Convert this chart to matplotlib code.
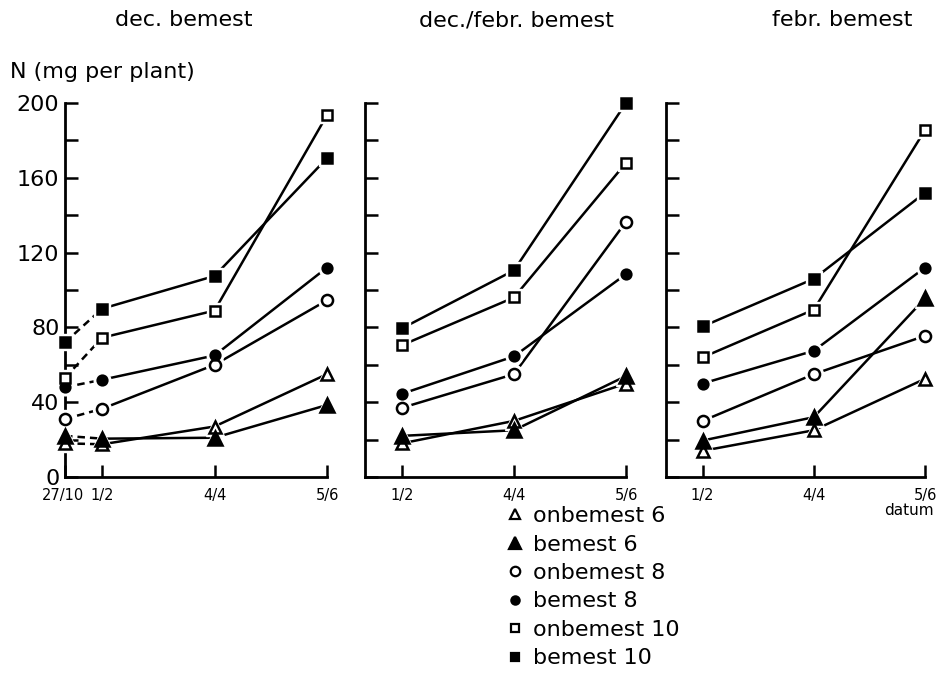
import matplotlib
matplotlib.use("Agg")
import matplotlib.pyplot as plt
import matplotlib.transforms as mtransforms
from matplotlib.lines import Line2D

# N uptake (mg per plant) per sampling date, three fertilisation regimes
dates_dec = ['27/10', '1/2', '4/4', '5/6']
dates = ['1/2', '4/4', '5/6']
xpos = {'27/10': -0.33, '1/2': 0, '4/4': 1, '5/6': 2}

dec_onbemest6 = [18, 17.5, 27, 55]
dec_bemest6 = [22, 20.5, 21, 38.5]
dec_onbemest8 = [31, 36.5, 60, 94.5]
dec_bemest8 = [48, 52, 65, 112]
dec_onbemest10 = [53, 74.5, 89, 193.5]
dec_bemest10 = [72, 90, 107.5, 170.5]

decfeb_onbemest6 = [18, 30, 50]
decfeb_bemest6 = [22, 25, 54]
decfeb_onbemest8 = [37, 55, 136.5]
decfeb_bemest8 = [44.5, 64.5, 108.5]
decfeb_onbemest10 = [70.5, 96, 168]
decfeb_bemest10 = [79.5, 110.5, 200]

feb_onbemest6 = [14, 25, 52.5]
feb_bemest6 = [19.5, 32, 95.5]
feb_onbemest8 = [30, 55, 75.5]
feb_bemest8 = [50, 67.5, 112]
feb_onbemest10 = [64, 89.5, 185.5]
feb_bemest10 = [80.5, 106, 152]

labels = ['onbemest 6', 'bemest 6', 'onbemest 8', 'bemest 8', 'onbemest 10', 'bemest 10']
# marker, filled, size
styles = [('^', False, 8.5), ('^', True, 9.5), ('o', False, 8), ('o', True, 7),
          ('s', False, 6.5), ('s', True, 6.5)]

titles = ['dec. bemest', 'dec./febr. bemest', 'febr. bemest']
panels = [
    (dates_dec, [dec_onbemest6, dec_bemest6, dec_onbemest8, dec_bemest8, dec_onbemest10, dec_bemest10]),
    (dates, [decfeb_onbemest6, decfeb_bemest6, decfeb_onbemest8, decfeb_bemest8, decfeb_onbemest10, decfeb_bemest10]),
    (dates, [feb_onbemest6, feb_bemest6, feb_onbemest8, feb_bemest8, feb_onbemest10, feb_bemest10]),
]

plt.rcParams['font.family'] = 'DejaVu Sans'
fig = plt.figure(figsize=(9.46, 6.77), dpi=100)

W, H = 946, 677
lefts = [65, 365, 666]
rights = [327, 626, 925]
bottom, top = 477, 103
title_x = [184, 516, 842]

for i, (dts, series) in enumerate(panels):
    ax = fig.add_axes([lefts[i] / W, 1 - bottom / H, (rights[i] - lefts[i]) / W, (bottom - top) / H])
    x = [xpos[d] for d in dts]
    for vals, (m, filled, ms) in zip(series, styles):
        if dts[0] == '27/10':
            ax.plot(x[:2], vals[:2], color='black', lw=1.8, ls=(0, (3, 2)), zorder=2)
            ax.plot(x[1:], vals[1:], color='black', lw=1.8, zorder=2)
        else:
            ax.plot(x, vals, color='black', lw=1.8, zorder=2)
        # white halo to leave a gap between line and marker
        ax.plot(x, vals, ls='none', marker=m, ms=ms + 5, color='white', zorder=3, clip_on=False)
        ax.plot(x, vals, ls='none', marker=m, ms=ms, markeredgewidth=1.8,
                markeredgecolor='black', markerfacecolor='black' if filled else 'white',
                zorder=4, clip_on=False)
    ax.set_xlim(-0.33, 2.0)
    ax.set_ylim(0, 200)
    for s in ['top', 'right']:
        ax.spines[s].set_visible(False)
    for s in ['left', 'bottom']:
        ax.spines[s].set_linewidth(2)
    ax.set_yticks(range(0, 201, 20))
    if i == 0:
        ax.set_yticklabels([str(v) if v % 40 == 0 else '' for v in range(0, 201, 20)], fontsize=16)
    else:
        ax.set_yticklabels([])
    ax.set_xticks(x)
    ax.set_xticklabels(dts, fontsize=10.5)
    ax.tick_params(direction='in', length=9, width=1.8, pad=4)
    ax.tick_params(axis='x', pad=8)
    if dts[0] == '27/10':
        lab = ax.get_xticklabels()[0]
        lab.set_transform(lab.get_transform() + mtransforms.ScaledTranslation(-2 / 100, 0, fig.dpi_scale_trans))
    fig.text(title_x[i] / W, 1 - 20 / H, titles[i], ha='center', va='center', fontsize=16)
    if i == 2:
        ax.annotate('datum', xy=(2, 0), xycoords='data', xytext=(6, -24), textcoords='offset points',
                    ha='right', va='center', fontsize=11)

fig.text(10 / W, 1 - 72 / H, 'N (mg per plant)', ha='left', va='center', fontsize=16)

handles = [Line2D([], [], ls='none', marker=m, ms=ms * 0.85, markeredgewidth=1.6, markeredgecolor='black',
                  markerfacecolor='black' if filled else 'white') for m, filled, ms in styles]
fig.legend(handles, labels, loc='upper left', bbox_to_anchor=(495 / W, 1 - 495 / H), frameon=False,
           fontsize=16, handlelength=0.8, handletextpad=0.4, labelspacing=0.38, borderpad=0)

fig.savefig('out.png', dpi=100)
